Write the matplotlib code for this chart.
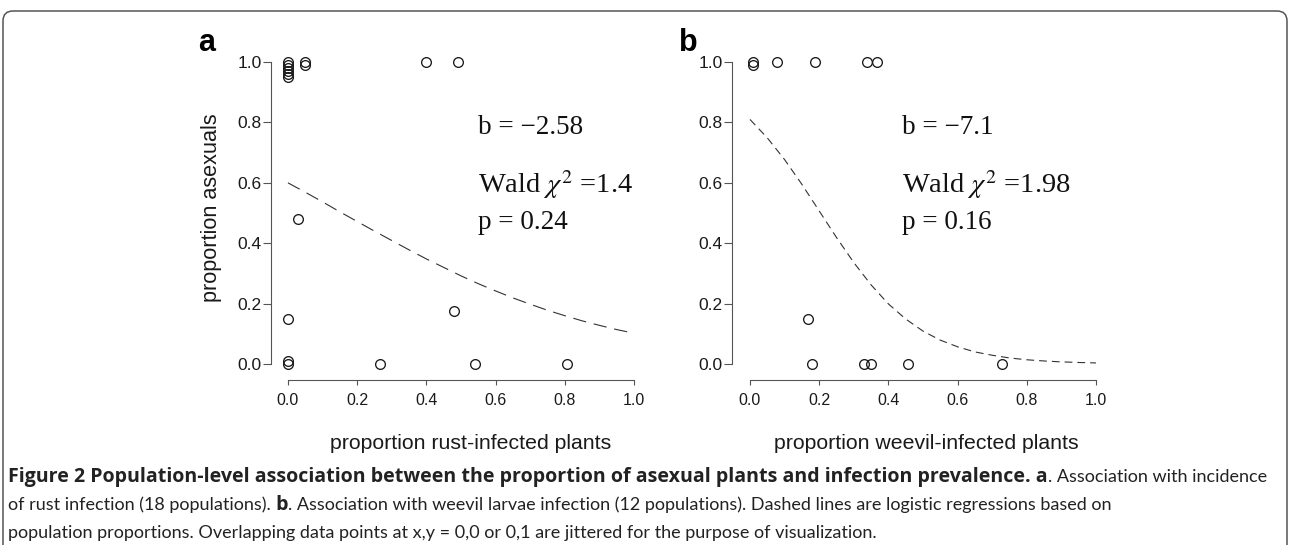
import matplotlib
matplotlib.use("Agg")
import matplotlib.pyplot as plt
from matplotlib.patches import FancyBboxPatch
from matplotlib.ticker import FormatStrFormatter
from matplotlib.transforms import IdentityTransform

plt.rcParams["font.family"] = ["Liberation Sans", "DejaVu Sans"]
plt.rcParams["mathtext.fontset"] = "stix"

# panel a: rust infection, 18 populations (jittered at 0,0 / 0,1)
rust_x = [0.0, 0.0, 0.0, 0.0, 0.0, 0.0, 0.05, 0.05, 0.40, 0.49,
          0.03, 0.48, 0.0, 0.0, 0.0, 0.265, 0.54, 0.805]
rust_y = [1.0, 0.99, 0.98, 0.97, 0.96, 0.95, 1.0, 0.99, 1.0, 1.0,
          0.48, 0.175, 0.15, 0.01, 0.0, 0.0, 0.0, 0.0]

# panel b: weevil larvae infection, 12 populations
weevil_x = [0.008, 0.008, 0.077, 0.188, 0.338, 0.367,
            0.169, 0.179, 0.329, 0.35, 0.457, 0.728]
weevil_y = [1.0, 0.99, 1.0, 1.0, 1.0, 1.0,
            0.15, 0.0, 0.0, 0.0, 0.0, 0.0]

# dashed logistic fits
fit_x = [0.0, 0.05, 0.1, 0.15, 0.2, 0.25, 0.3, 0.35, 0.4, 0.45, 0.5,
         0.55, 0.6, 0.65, 0.7, 0.75, 0.8, 0.85, 0.9, 0.95, 1.0]
rust_fit = [0.600, 0.569, 0.537, 0.504, 0.472, 0.440, 0.409, 0.378, 0.348, 0.320, 0.292,
            0.266, 0.242, 0.219, 0.198, 0.178, 0.160, 0.143, 0.128, 0.114, 0.102]
weevil_fit = [0.810, 0.749, 0.677, 0.595, 0.507, 0.419, 0.336, 0.262, 0.199, 0.149, 0.109,
              0.079, 0.057, 0.040, 0.029, 0.020, 0.014, 0.010, 0.007, 0.005, 0.0035]

rust_stats = ["b = \u22122.58", r"Wald $\chi^2$ =1.4", "p = 0.24"]
weevil_stats = ["b = \u22127.1", r"Wald $\chi^2$ =1.98", "p = 0.16"]
ticks = [0.0, 0.2, 0.4, 0.6, 0.8, 1.0]

W, H = 1290, 545
fig = plt.figure(figsize=(W / 100, H / 100), dpi=100)


def px_axes(left, bottom, right, top):
    return fig.add_axes([left / W, 1 - bottom / H, (right - left) / W, (bottom - top) / H])


def draw_panel(ax, x, y, fy, dash, stats, text_x, xlim):
    ax.plot(fit_x, fy, color="#333333", lw=0.8, ls=(0, dash))
    ax.plot(x, y, "o", mfc="none", mec="#1a1a1a", ms=7, mew=0.95)
    ax.set_xlim(*xlim)
    ax.set_ylim(-0.053, 1.04)
    for s in ["top", "right"]:
        ax.spines[s].set_visible(False)
    for s in ["left", "bottom"]:
        ax.spines[s].set_bounds(0, 1)
        ax.spines[s].set_color("#555555")
        ax.spines[s].set_linewidth(0.8)
    ax.set_xticks(ticks)
    ax.set_yticks(ticks)
    ax.xaxis.set_major_formatter(FormatStrFormatter("%.1f"))
    ax.yaxis.set_major_formatter(FormatStrFormatter("%.1f"))
    ax.tick_params(axis="x", length=3.5, pad=6, width=0.8, color="#555555",
                   labelsize=11.5, labelcolor="#1a1a1a")
    ax.tick_params(axis="y", length=5.5, pad=1, width=0.8, color="#555555",
                   labelsize=12.5, labelcolor="#1a1a1a")
    sizes = [19.5, 20.5, 19.5]
    for txt, yy, fs in zip(stats, [0.762, 0.566, 0.447], sizes):
        ax.text(text_x, yy, txt, family="Liberation Serif", fontsize=fs,
                va="baseline", ha="left", color="#111111")


ax_a = px_axes(271, 380, 648, 50)
draw_panel(ax_a, rust_x, rust_y, rust_fit, (12, 7), rust_stats, 0.55, (-0.049, 1.0405))
ax_b = px_axes(732, 380, 1110, 50)
draw_panel(ax_b, weevil_x, weevil_y, weevil_fit, (7, 4.5), weevil_stats, 0.44, (-0.052, 1.0405))

# axis titles and panel letters
fig.text(211 / W, 1 - 208 / H, "proportion asexuals", rotation=90,
         ha="center", va="center", fontsize=15.6, color="#1a1a1a")
fig.text(471 / W, 1 - 449 / H, "proportion rust-infected plants",
         ha="center", va="baseline", fontsize=15.3, color="#1a1a1a")
fig.text(926 / W, 1 - 449 / H, "proportion weevil-infected plants",
         ha="center", va="baseline", fontsize=15.3, color="#1a1a1a")
fig.text(198 / W, 1 - 51 / H, "a", fontsize=22, weight="bold", va="baseline")
fig.text(679 / W, 1 - 51 / H, "b", fontsize=22, weight="bold", va="baseline")

# rounded frame around figure + caption
frame = FancyBboxPatch((3, -40), 1284, 534 + 40, boxstyle="round,pad=0,rounding_size=10",
                       transform=IdentityTransform(), fill=False, ec="#555555", lw=1.1)
fig.add_artist(frame)

cap_lines = [
    [("Figure 2 Population-level association between the proportion of asexual plants "
      "and infection prevalence. a", "bold"), (". Association with incidence", "normal")],
    [("of rust infection (18 populations).", "normal"), (" b", "bold"),
     (". Association with weevil larvae infection (12 populations). Dashed lines are "
      "logistic regressions based on", "normal")],
    [("population proportions. Overlapping data points at x,y = 0,0 or 0,1 are jittered "
      "for the purpose of visualization.", "normal")],
]
cap_base = [482, 510, 538]
cap_size = 13
renderer = fig.canvas.get_renderer()

# the bold lead-in is set wider in the original; size it to end near x = 1040 px
probe_b = fig.text(0, 0, cap_lines[0][0][0], family="Open Sans", weight="bold", fontsize=cap_size)
wb = probe_b.get_window_extent(renderer=renderer).width
probe_b.remove()
bold_size = cap_size * (1040 - 8) / wb

for parts, yb in zip(cap_lines, cap_base):
    x0 = 8
    for txt, wt in parts:
        if wt == "bold":
            fam, fs = ["Open Sans", "DejaVu Sans"], bold_size
        else:
            fam, fs = ["Lato", "DejaVu Sans"], cap_size
        t = fig.text(x0 / W, 1 - yb / H, txt, family=fam, fontsize=fs,
                     weight=wt, va="baseline", ha="left", color="#222222")
        x0 = t.get_window_extent(renderer=renderer).x1

fig.savefig("out.png", dpi=100)
